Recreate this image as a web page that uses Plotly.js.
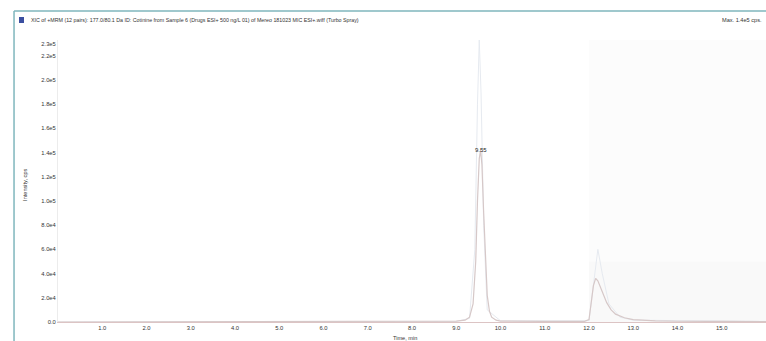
<!DOCTYPE html>
<html>
<head>
<meta charset="utf-8">
<script src="https://cdn.plot.ly/plotly-3.0.1.min.js"></script>
<style>html,body{margin:0;padding:0;background:#fff;}#chart{width:766px;height:341px;}</style>
</head>
<body>
<div id="chart"></div>
<script>
// Main XIC trace (time, min / intensity, cps)
var mainTime = [0.0, 1.0, 2.0, 3.0, 4.0, 5.0, 6.0, 7.0, 8.0, 8.5, 9.0, 9.2, 9.3, 9.38, 9.44, 9.48, 9.52, 9.55, 9.58, 9.62, 9.66, 9.7, 9.75, 9.8, 9.9, 10.0, 11.0, 11.9, 12.0, 12.05, 12.1, 12.15, 12.2, 12.3, 12.4, 12.5, 12.6, 12.8, 13.0, 13.5, 14.0, 15.0, 16.0];
var mainInt  = [0, 100, 100, 150, 150, 200, 200, 250, 300, 500, 800, 1500, 4000, 15000, 50000, 100000, 135000, 142000, 130000, 90000, 50000, 22000, 9000, 4000, 1500, 800, 500, 500, 2000, 15000, 30000, 36000, 34000, 25000, 16000, 10000, 6500, 3500, 2000, 1000, 600, 450, 400];
// Faint overlay trace
var faintTime = [0.0, 9.0, 9.3, 9.42, 9.48, 9.52, 9.56, 9.62, 9.7, 10.0, 12.0, 12.1, 12.2, 12.3, 12.45, 12.7, 13.0, 16.0];
var faintInt  = [0, 500, 3000, 60000, 180000, 233000, 190000, 80000, 10000, 1000, 1000, 30000, 60000, 40000, 15000, 4000, 1500, 500];
// Axis ticks
var xTickVals = [1, 2, 3, 4, 5, 6, 7, 8, 9, 10, 11, 12, 13, 14, 15];
var xTickText = ["1.0","2.0","3.0","4.0","5.0","6.0","7.0","8.0","9.0","10.0","11.0","12.0","13.0","14.0","15.0"];
var yTickVals = [0, 20000, 40000, 60000, 80000, 100000, 120000, 140000, 160000, 180000, 200000, 220000, 230000];
var yTickText = ["0.0","2.0e4","4.0e4","6.0e4","8.0e4","1.0e5","1.2e5","1.4e5","1.6e5","1.8e5","2.0e5","2.2e5","2.3e5"];
var peakLabel = "9.55";
var peakTime = 9.55, peakInt = 142000;

var traces = [
  {x: faintTime, y: faintInt, mode: 'lines', line: {color: '#e6eaf0', width: 1}, hoverinfo: 'skip'},
  {x: mainTime, y: mainInt, mode: 'lines', line: {color: '#d6c8c8', width: 1.2}, hoverinfo: 'skip'}
];

var FF = 'Liberation Sans, Arial, sans-serif';
var f = {family: FF, size: 5.8, color: '#333'};
var layout = {
  width: 766, height: 341,
  margin: {l: 58, r: 0, t: 40, b: 19},
  paper_bgcolor: '#fff', plot_bgcolor: '#fff',
  showlegend: false,
  font: f,
  xaxis: {range: [0, 16], tickvals: xTickVals, ticktext: xTickText, showgrid: false, zeroline: false,
          showline: true, linecolor: '#dcc4c4', linewidth: 1, ticks: '', tickfont: f, fixedrange: true},
  yaxis: {range: [0, 233000], tickvals: yTickVals, ticktext: yTickText, showgrid: false, zeroline: false,
          showline: true, linecolor: '#ececec', linewidth: 1, ticks: '', tickfont: f, fixedrange: true},
  shapes: [
    {type: 'rect', xref: 'x', yref: 'paper', x0: 12, x1: 16, y0: 0, y1: 1, fillcolor: '#fcfcfc', line: {width: 0}, layer: 'below'},
    {type: 'rect', xref: 'x', yref: 'y', x0: 12, x1: 16, y0: 0, y1: 50000, fillcolor: '#f9f9f9', line: {width: 0}, layer: 'below'},
    {type: 'line', xref: 'paper', yref: 'paper', x0: -0.0621, x1: -0.0621, y0: 1.1028, y1: -0.07, line: {color: '#7fb6bd', width: 1.5}},
    {type: 'line', xref: 'paper', yref: 'paper', x0: -0.0621, x1: 1, y0: 1.1028, y1: 1.1028, line: {color: '#7fb6bd', width: 1.5}},
    {type: 'rect', xref: 'paper', yref: 'paper', x0: -0.0551, x1: -0.0480, y0: 1.0816, y1: 1.0603, fillcolor: '#3b4fa0', line: {width: 0}}
  ],
  annotations: [
    {xref: 'paper', yref: 'paper', x: -0.0410, y: 1.0709, xanchor: 'left', yanchor: 'middle', showarrow: false,
     text: 'XIC of +MRM (12 pairs): 177.0/80.1 Da ID: Cotinine from Sample 6 (Drugs ESI+ 500 ng/L 01) of Mereo 181023 MIC ESI+.wiff (Turbo Spray)',
     font: {family: FF, size: 5.3, color: '#333'}},
    {xref: 'paper', yref: 'paper', x: 0.935, y: 1.0709, xanchor: 'left', yanchor: 'middle', showarrow: false,
     text: 'Max. 1.4e5 cps.', font: {family: FF, size: 5.6, color: '#333'}},
    {xref: 'paper', yref: 'paper', x: -0.0537, y: 0.486, textangle: -90, showarrow: false,
     text: 'Intensity, cps', font: {family: FF, size: 5.6, color: '#333'}},
    {xref: 'paper', yref: 'paper', x: 0.49, y: -0.057, showarrow: false, yanchor: 'middle',
     text: 'Time, min', font: {family: FF, size: 5.6, color: '#333'}},
    {xref: 'x', yref: 'y', x: peakTime, y: peakInt, showarrow: false, yanchor: 'middle',
     text: peakLabel, font: {family: FF, size: 6, color: '#222'}}
  ]
};
Plotly.newPlot('chart', traces, layout, {displayModeBar: false, staticPlot: true});
</script>
</body>
</html>
